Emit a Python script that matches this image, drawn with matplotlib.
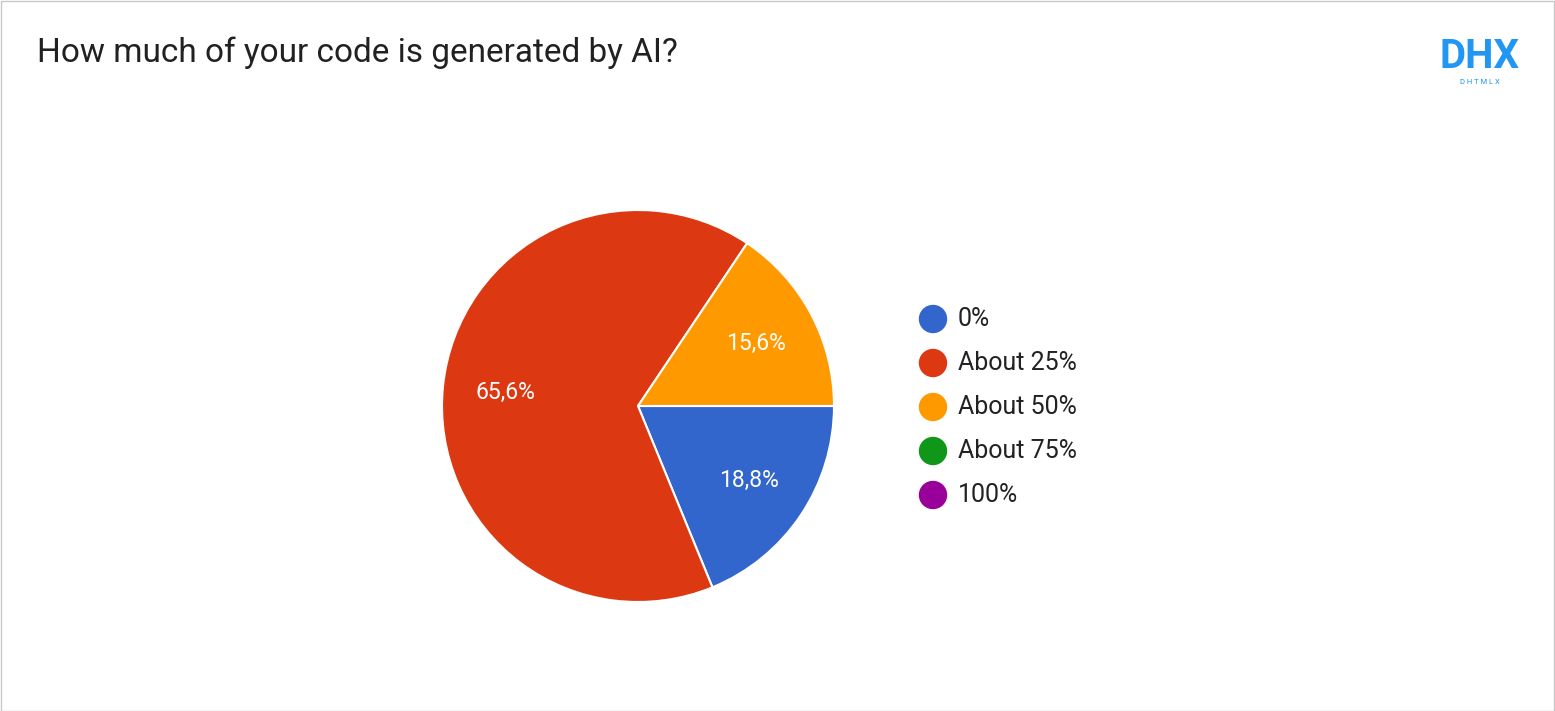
import numpy as np
import matplotlib.pyplot as plt
from matplotlib.patches import Rectangle, Circle

labels = ['0%', 'About 25%', 'About 50%', 'About 75%', '100%']
values = [18.8, 65.6, 15.6, 0.0, 0.0]
colors = ['#3366cc', '#dc3912', '#ff9900', '#109618', '#990099']
title = 'How much of your code is generated by AI?'

W, H = 1555, 711
fig = plt.figure(figsize=(W / 100, H / 100), dpi=100)
plt.rcParams['font.family'] = ['Roboto', 'DejaVu Sans']

# border
fig.patches.append(Rectangle((0.5 / W, 0.5 / H), 1 - 1.5 / W, 1 - 1.5 / H, transform=fig.transFigure,
                             fill=False, edgecolor='#c8c8c8', linewidth=1))

fig.text(37 / W, 1 - 53 / H, title, fontsize=24, color='#212121', va='center')
fig.text(1480 / W, 1 - 57 / H, 'DHX', fontsize=29, fontweight='bold', color='#2196f3',
         ha='center', va='center')
fig.text(1480 / W, 1 - 82 / H, 'D H T M L X', fontsize=5.5, color='#2196f3', ha='center', va='center')

# pie axes: center (638,406), radius 196
r = 196
ax = fig.add_axes([(638 - r) / W, (H - 406 - r) / H, 2 * r / W, 2 * r / H])
nz = [(v, c) for v, c in zip(values, colors) if v > 0]
wedges, texts = ax.pie([v for v, c in nz], colors=[c for v, c in nz], startangle=0, counterclock=False,
                       wedgeprops=dict(edgecolor='white', linewidth=1.5), radius=1)
ax.set_xlim(-1, 1)
ax.set_ylim(-1, 1)
ax.set_aspect('equal')
ang = 0
for v, c in nz:
    mid = np.deg2rad(-(ang + v * 3.6 / 2))
    ang += v * 3.6
    ax.text(0.68 * np.cos(mid), 0.68 * np.sin(mid), ('%.1f%%' % v).replace('.', ','),
            color='white', fontsize=16.5, ha='center', va='center')

# legend
for i, (lab, c) in enumerate(zip(labels, colors)):
    y = H - (319 + i * 44)
    fig.patches.append(Circle((933 / 100, y / 100), 0.135, transform=fig.dpi_scale_trans, color=c))
    fig.text(958 / W, y / H, lab, fontsize=18, color='#222222', va='center')

fig.savefig('out.png', dpi=100)
